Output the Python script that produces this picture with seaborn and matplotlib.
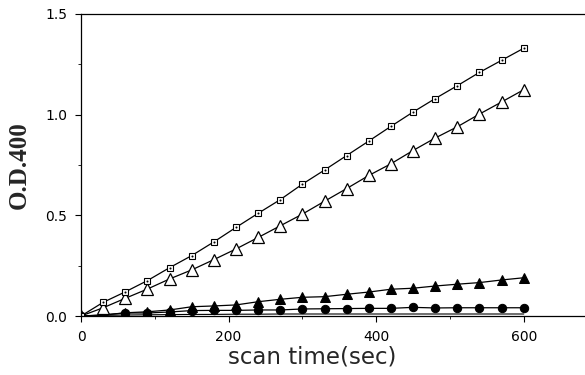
import matplotlib
matplotlib.use("Agg")
import matplotlib.pyplot as plt
import seaborn as sns
import pandas as pd
from matplotlib.ticker import MultipleLocator, FixedLocator, FixedFormatter

time_sec = [0, 30, 60, 90, 120, 150, 180, 210, 240, 270, 300, 330, 360, 390, 420,
            450, 480, 510, 540, 570, 600]
open_square = [0.0, 0.068, 0.12, 0.176, 0.24, 0.30, 0.368, 0.44, 0.51, 0.578, 0.655,
               0.725, 0.797, 0.869, 0.942, 1.013, 1.08, 1.144, 1.21, 1.27, 1.33]
open_triangle = [0.0, 0.041, 0.088, 0.134, 0.184, 0.229, 0.28, 0.333, 0.39, 0.448, 0.506,
                 0.57, 0.633, 0.698, 0.756, 0.822, 0.884, 0.94, 1.003, 1.063, 1.124]
filled_triangle = [0.0, 0.005, 0.016, 0.021, 0.03, 0.046, 0.05, 0.055, 0.071, 0.083, 0.093,
                   0.096, 0.108, 0.119, 0.133, 0.138, 0.149, 0.158, 0.166, 0.179, 0.19]
filled_circle = [0.0, 0.005, 0.015, 0.015, 0.02, 0.027, 0.028, 0.028, 0.03, 0.03, 0.035,
                 0.036, 0.037, 0.038, 0.038, 0.043, 0.04, 0.041, 0.041, 0.041, 0.041]
baseline = [0.0, 0.003, 0.005, 0.006, 0.007, 0.008, 0.008, 0.009, 0.009, 0.010, 0.010,
            0.010, 0.010, 0.010, 0.010, 0.010, 0.010, 0.010, 0.010, 0.010, 0.010]

x_ticks = [0, 200, 400, 600]
x_ticklabels = ["0", "200", "400", "600"]
y_ticks = [0.0, 0.5, 1.0, 1.5]
y_ticklabels = ["0.0", "0.5", "1.0", "1.5"]

sns.set_style("ticks")
plt.rcParams['font.family'] = ['DejaVu Sans']

fig = plt.figure(figsize=(5.85, 3.75), dpi=100)
ax = fig.add_axes([0.1385, 0.1573, 0.8615, 0.8054])

df = pd.DataFrame({"t": time_sec, "sq": open_square, "otri": open_triangle,
                   "ftri": filled_triangle, "fcir": filled_circle, "base": baseline})

sns.lineplot(data=df, x="t", y="base", ax=ax, color="black", lw=0.8)
sns.lineplot(data=df, x="t", y="fcir", ax=ax, color="black", lw=0.9, marker="o",
             markersize=6, markerfacecolor="black", markeredgecolor="black")
sns.lineplot(data=df, x="t", y="ftri", ax=ax, color="black", lw=0.9, marker="^",
             markersize=7, markerfacecolor="black", markeredgecolor="black")
sns.lineplot(data=df, x="t", y="otri", ax=ax, color="black", lw=0.9, marker="^",
             markersize=8.5, markerfacecolor="white", markeredgecolor="black",
             markeredgewidth=0.9)
sns.lineplot(data=df, x="t", y="sq", ax=ax, color="black", lw=0.9, marker="s",
             markersize=4.5, markerfacecolor="white", markeredgecolor="black",
             markeredgewidth=0.8)
sns.lineplot(data=df, x="t", y="sq", ax=ax, color="black", lw=0, marker=".",
             markersize=1.5, markerfacecolor="black", markeredgecolor="black")

ax.set_xlim(0, 683)
ax.set_ylim(0, 1.5)
ax.xaxis.set_major_locator(FixedLocator(x_ticks))
ax.xaxis.set_major_formatter(FixedFormatter(x_ticklabels))
ax.yaxis.set_major_locator(FixedLocator(y_ticks))
ax.yaxis.set_major_formatter(FixedFormatter(y_ticklabels))
ax.xaxis.set_minor_locator(MultipleLocator(100))
ax.yaxis.set_minor_locator(MultipleLocator(0.25))
ax.tick_params(axis="both", which="major", direction="out", length=4, width=0.8,
               labelsize=10, colors="black")
ax.tick_params(axis="both", which="minor", direction="out", length=2.5, width=0.7)
ax.tick_params(axis="x", pad=6)
ax.tick_params(axis="y", pad=6)

for s in ["left", "bottom", "top"]:
    ax.spines[s].set_visible(True)
    ax.spines[s].set_color("black")
    ax.spines[s].set_linewidth(0.9)
ax.spines["right"].set_visible(False)

ax.set_xlabel("scan time(sec)", fontsize=16.5)
ax.xaxis.set_label_coords(0.458, -0.098)
ax.set_ylabel("O.D.400", fontsize=18, fontweight="bold", family="Liberation Serif",
              labelpad=10)

fig.savefig("out.png", dpi=100)
